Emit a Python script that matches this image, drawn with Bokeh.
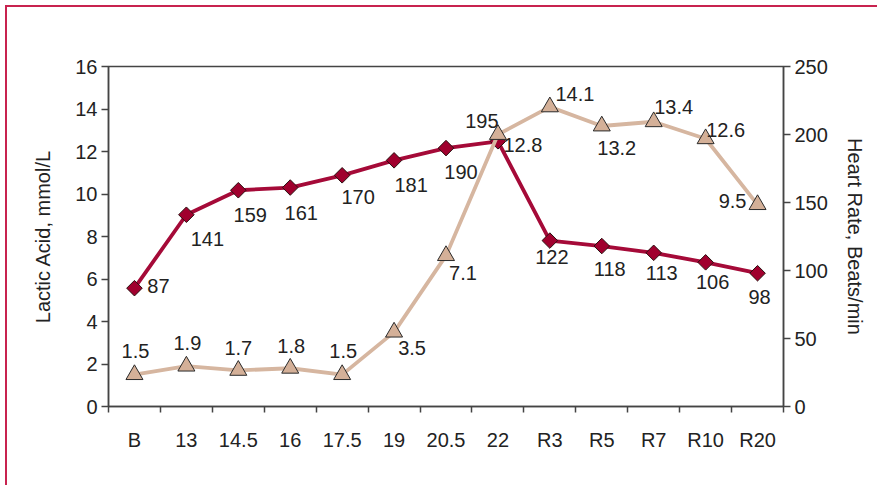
import numpy as np
from bokeh.plotting import figure
from bokeh.models import Range1d, LinearAxis, FixedTicker, ColumnDataSource
from bokeh.core.properties import value
from bokeh.embed import file_html
from bokeh.resources import INLINE

# ---- data ----
categories = ["B", "13", "14.5", "16", "17.5", "19", "20.5", "22",
              "R3", "R5", "R7", "R10", "R20"]
lactic_acid = [1.5, 1.9, 1.7, 1.8, 1.5, 3.5, 7.1, 12.8, 14.1, 13.2, 13.4, 12.6, 9.5]
heart_rate = [87, 141, 159, 161, 170, 181, 190, 195, 122, 118, 113, 106, 98]
left_ticks = [0, 2, 4, 6, 8, 10, 12, 14, 16]
right_ticks = [0, 50, 100, 150, 200, 250]

# label offsets (pixels, +y = down) -- styling only
la_dx = [1, 1, 0, 1, 1, 18, 17, 25, 25, 15, 20, 20, -25]
la_dy = [-24, -23, -22, -22, -24, 16, 17, 10, -13, 22, -15, -9, -4]
hr_dx = [24, 21, 12, 11, 16, 17, 15, -16, 2, 8, 8, 7, 2]
hr_dy = [-2, 24, 25, 25, 22, 25, 24, -20, 16, 23, 20, 20, 24]

FONT = "Liberation Sans"
FS = "20px"
CRIMSON = "#A50A38"
TAN = "#D6B6A0"
AXC = "#444444"
TXT = "#222222"

n = len(categories)
xs = [i + 0.5 for i in range(n)]

W, H = 877, 485
BL, BR, BT, BB = 108, 94, 66, 79
p = figure(width=W, height=H, output_backend="svg", toolbar_location=None,
           x_range=Range1d(0, n), y_range=Range1d(0, 16),
           min_border_left=BL, min_border_right=BR,
           min_border_top=BT, min_border_bottom=BB)
p.background_fill_color = "white"
p.border_fill_color = None
p.styles = {"box-shadow": "inset 5px 5px 0 0 white, inset 7px 7px 0 0 #C8234F",
            "background-color": "white"}
p.grid.visible = False
p.outline_line_color = AXC
p.outline_line_width = 1.5

p.extra_y_ranges = {"hr": Range1d(0, 250)}

# x axis: labels at category centres, tick marks at boundaries
xax = p.xaxis[0]
xax.ticker = FixedTicker(ticks=xs, minor_ticks=list(range(n + 1)))
xax.major_label_overrides = {x: c for x, c in zip(xs, categories)}
xax.major_tick_out = 0
xax.major_tick_in = 0
xax.minor_tick_out = 6
xax.minor_tick_in = 0
xax.minor_tick_line_color = AXC
xax.minor_tick_line_width = 1.5
xax.major_label_standoff = 16

yax = p.yaxis[0]
yax.ticker = FixedTicker(ticks=left_ticks)
yax.axis_label = "Lactic Acid, mmol/L"
yax.minor_tick_line_color = None

rax = LinearAxis(y_range_name="hr", ticker=FixedTicker(ticks=right_ticks),
                 axis_label="Heart Rate, Beats/min")
rax.minor_tick_line_color = None
p.add_layout(rax, "right")

for ax in [xax, yax, rax]:
    ax.axis_line_color = AXC
    ax.axis_line_width = 1.5
    ax.major_tick_line_color = AXC
    ax.major_tick_line_width = 1.5
    ax.major_label_text_font = FONT
    ax.major_label_text_font_size = FS
    ax.major_label_text_color = TXT
    ax.axis_label_text_font = FONT
    ax.axis_label_text_font_size = FS
    ax.axis_label_text_font_style = "normal"
    ax.axis_label_text_color = TXT
for ax in [yax, rax]:
    ax.major_tick_out = 7
    ax.major_tick_in = 0
    ax.major_label_standoff = 4
yax.axis_label_standoff = 18
rax.axis_label_standoff = 13

hr_src = ColumnDataSource(dict(x=xs, y=heart_rate, t=[str(v) for v in heart_rate],
                               dx=hr_dx, dy=hr_dy))
la_src = ColumnDataSource(dict(x=xs, y=lactic_acid, t=[str(v) for v in lactic_acid],
                               dx=la_dx, dy=la_dy))

p.line("x", "y", source=hr_src, y_range_name="hr", line_color=CRIMSON, line_width=3.8)
p.scatter("x", "y", source=hr_src, y_range_name="hr", marker="square", size=11,
          angle=np.pi / 4, fill_color="#A0002E", line_color="#2a1010", line_width=1)
p.line("x", "y", source=la_src, line_color=TAN, line_width=3.8)
p.scatter("x", "y", source=la_src, marker="triangle", size=17,
          fill_color="#D4B098", line_color="#2a2a2a", line_width=1)

p.text("x", "y", text="t", source=hr_src, y_range_name="hr", x_offset="dx", y_offset="dy",
       text_align="center", text_baseline="middle", text_font=value(FONT),
       text_font_size=FS, text_color=TXT)
p.text("x", "y", text="t", source=la_src, x_offset="dx", y_offset="dy",
       text_align="center", text_baseline="middle", text_font=value(FONT),
       text_font_size=FS, text_color=TXT)

open("out.html", "w").write(file_html(p, INLINE))
